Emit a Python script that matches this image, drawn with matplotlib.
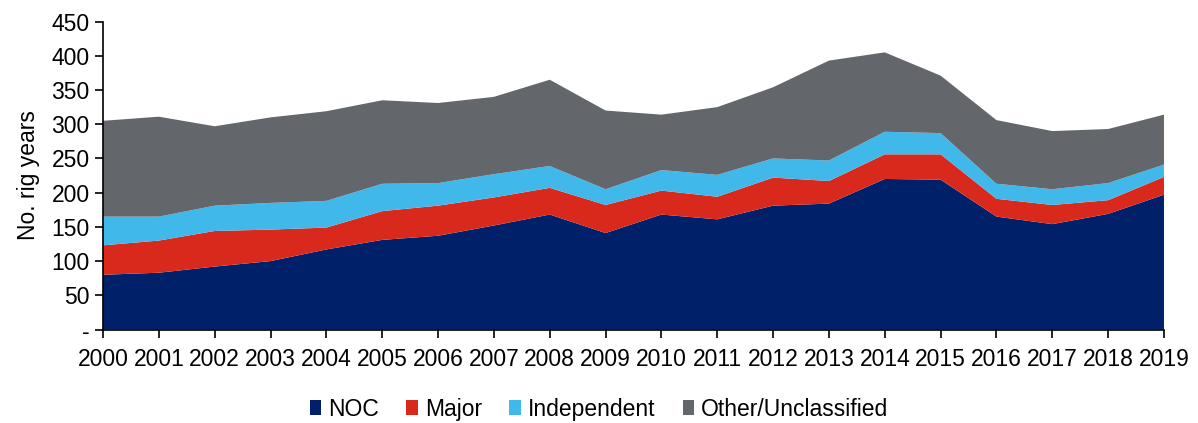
import matplotlib
matplotlib.use("Agg")
import matplotlib.pyplot as plt
from matplotlib.patches import Patch

# rig years by operator type
years = list(range(2000, 2020))
noc = [80, 83, 92, 100, 117, 131, 137, 152, 168, 141, 168, 161, 181, 184, 220, 219, 165, 154, 169, 197]
major = [43, 47, 52, 46, 32, 42, 44, 41, 39, 41, 35, 33, 41, 33, 36, 37, 26, 28, 20, 26]
independent = [42, 35, 37, 39, 39, 40, 33, 34, 32, 23, 30, 32, 28, 30, 33, 31, 22, 23, 25, 18]
other = [140, 146, 116, 125, 131, 122, 117, 113, 126, 115, 81, 99, 104, 146, 116, 84, 93, 85, 79, 73]

labels = ["NOC", "Major", "Independent", "Other/Unclassified"]
colors = ["#002169", "#D9291C", "#41B8EA", "#63666A"]
yticks = [0, 50, 100, 150, 200, 250, 300, 350, 400, 450]
ytick_labels = ["-", "50", "100", "150", "200", "250", "300", "350", "400", "450"]

plt.rcParams['font.family'] = ['Liberation Sans', 'DejaVu Sans']
fs = 16.5

fig = plt.figure(figsize=(11.98, 4.23), dpi=100)
ax = fig.add_axes([0.086, 0.221, 0.8856, 0.728])

ax.stackplot(years, noc, major, independent, other, colors=colors, linewidth=0)

ax.set_xlim(2000, 2019)
ax.set_ylim(0, 450)
ax.set_xticks(years)
ax.set_xticklabels([str(y) for y in years], fontsize=fs)
ax.set_yticks(yticks)
ax.set_yticklabels(ytick_labels, fontsize=fs)
ax.set_ylabel("No. rig years", fontsize=fs, labelpad=8)
ax.tick_params(axis='both', direction='out', length=6, width=1.2, color='black')
ax.tick_params(axis='x', pad=7)

for s in ['top', 'right']:
    ax.spines[s].set_visible(False)
for s in ['left', 'bottom']:
    ax.spines[s].set_linewidth(1.2)

handles = [Patch(facecolor=c, edgecolor='none') for c in colors]
fig.legend(handles, labels, loc='center', bbox_to_anchor=(0.5, 0.033), ncol=4,
           frameon=False, fontsize=fs, handlelength=0.5, handleheight=0.6,
           handletextpad=0.3, columnspacing=1.2)

fig.savefig("out.png", dpi=100)
